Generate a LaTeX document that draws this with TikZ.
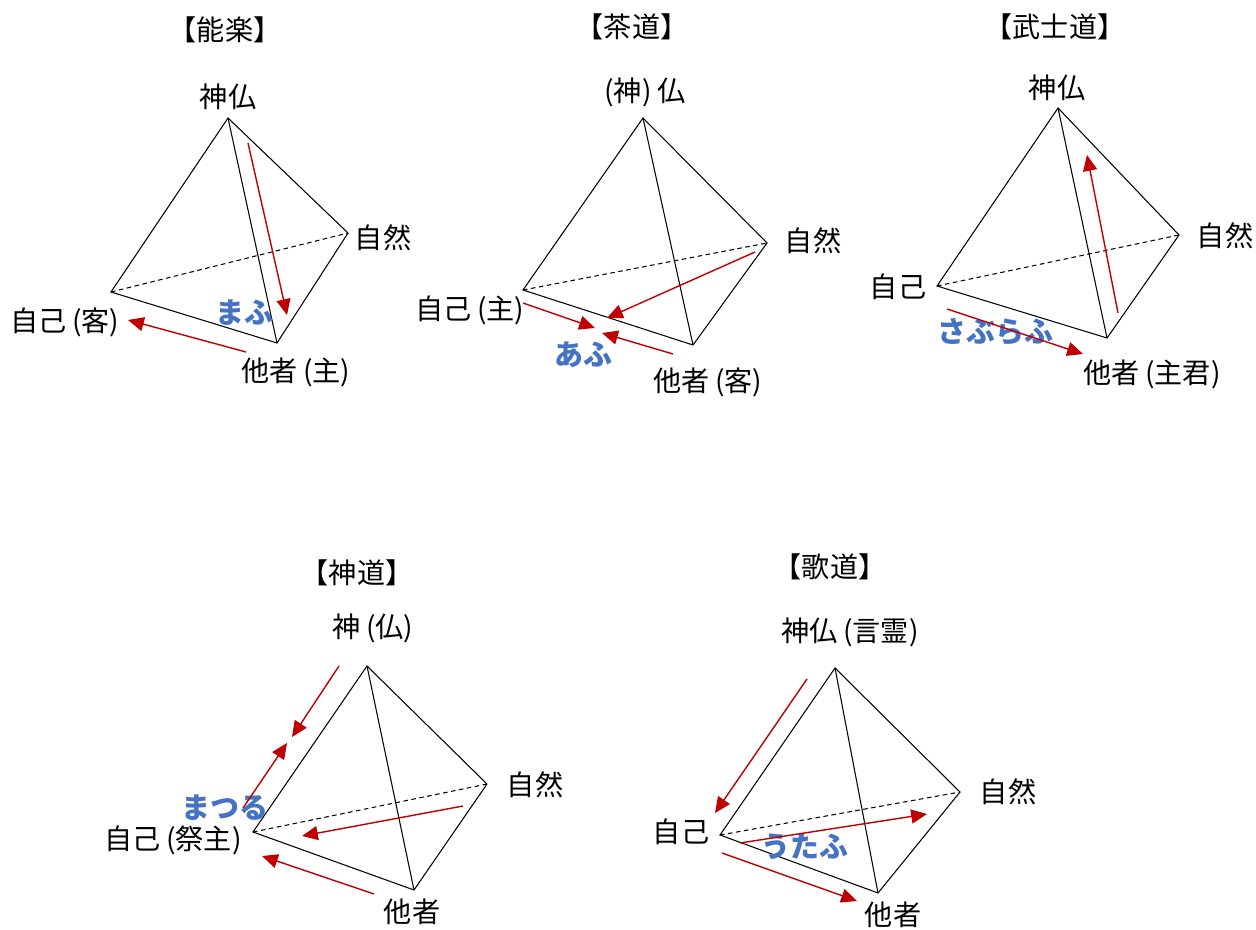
\documentclass[tikz,border=0pt]{standalone}
\usepackage{fontspec}
\setmainfont{Noto Sans CJK JP}
\usetikzlibrary{arrows.meta}
\definecolor{arrred}{HTML}{C00000}
\definecolor{kanablue}{HTML}{4472C4}
\newcommand{\myLP}{\hspace{0.2em}(}
\newcommand{\myRP}{)\hspace{0.2em}}
\begin{document}
\begin{tikzpicture}[x=0.02cm,y=-0.02cm,
  edge/.style={line width=0.6pt, line join=miter},
  hidden/.style={line width=0.6pt, dash pattern=on 2.6pt off 2pt},
  rarrow/.style={arrred, line width=0.8pt, -{Triangle[length=9pt,width=8pt]}},
  lbl/.style={font=\fontsize{16}{19}\selectfont, inner sep=0pt},
  ttl/.style={font=\fontsize{16}{19}\selectfont, inner sep=0pt},
  kana/.style={text=kanablue, font=\fontsize{16.5}{19}\selectfont\bfseries, inner sep=0pt}]
\useasboundingbox[fill=white] (0,0) rectangle (1256,929);

% ---------- 能楽 ----------
\node[ttl] (t1) at (225,30) {【能楽】};
\coordinate (A1t) at (228,118);
\coordinate (A1n) at (348,233);
\coordinate (A1s) at (111,292);
\coordinate (A1o) at (277,343);
\draw[edge] (A1s) -- (A1t) -- (A1n) -- (A1o) -- cycle;
\draw[edge] (A1t) -- (A1o);
\draw[hidden] (A1s) -- (A1n);
\node[lbl] (l1t) at (228,97) {神仏};
\node[lbl] (l1n) at (383,238) {自然};
\node[lbl] (l1s) at (65,322) {自己\myLP 客\myRP};
\node[lbl] (l1o) at (296,372) {他者\myLP 主\myRP};
\node[kana] (k1) at (244,313) {まふ};
\coordinate (A1p1) at (248,143); \coordinate (A1p2) at (287,315);
\coordinate (A1q1) at (246,352); \coordinate (A1q2) at (128,320);
\draw[rarrow] (A1p1) -- (A1p2);
\draw[rarrow] (A1q1) -- (A1q2);

% ---------- 茶道 ----------
\node[ttl] (t2) at (632,27) {【茶道】};
\coordinate (A2t) at (643,118);
\coordinate (A2n) at (767,243);
\coordinate (A2s) at (523,290);
\coordinate (A2o) at (693,345);
\draw[edge] (A2s) -- (A2t) -- (A2n) -- (A2o) -- cycle;
\draw[edge] (A2t) -- (A2o);
\draw[hidden] (A2s) -- (A2n);
\node[lbl] (l2t) at (642,92) {\myLP 神\myRP 仏};
\node[lbl] (l2n) at (813,241) {自然};
\node[lbl] (l2s) at (470,310) {自己\myLP 主\myRP};
\node[lbl] (l2o) at (708,382) {他者\myLP 客\myRP};
\node[kana] (k2) at (583,355) {あふ};
\coordinate (A2p1) at (523,303); \coordinate (A2p2) at (595,328);
\coordinate (A2q1) at (673,354); \coordinate (A2q2) at (602,333);
\coordinate (A2r1) at (755,252); \coordinate (A2r2) at (607,318);
\draw[rarrow] (A2p1) -- (A2p2);
\draw[rarrow] (A2q1) -- (A2q2);
\draw[rarrow] (A2r1) -- (A2r2);

% ---------- 武士道 ----------
\node[ttl] (t3) at (1055,27) {【武士道】};
\coordinate (A3t) at (1058,108);
\coordinate (A3n) at (1179,235);
\coordinate (A3s) at (937,286);
\coordinate (A3o) at (1107,338);
\draw[edge] (A3s) -- (A3t) -- (A3n) -- (A3o) -- cycle;
\draw[edge] (A3t) -- (A3o);
\draw[hidden] (A3s) -- (A3n);
\node[lbl] (l3t) at (1057,88) {神仏};
\node[lbl] (l3n) at (1225,236) {自然};
\node[lbl] (l3s) at (898,287) {自己};
\node[lbl] (l3o) at (1152,374) {他者\myLP 主君\myRP};
\node[kana] (k3) at (995,332) {さぶらふ};
\coordinate (A3p1) at (1118,313); \coordinate (A3p2) at (1087,155);
\coordinate (A3q1) at (947,309); \coordinate (A3q2) at (1083,354);
\draw[rarrow] (A3p1) -- (A3p2);
\draw[rarrow] (A3q1) -- (A3q2);

% ---------- 神道 ----------
\node[ttl] (t4) at (357,573) {【神道】};
\coordinate (A4t) at (367,666);
\coordinate (A4n) at (487,784);
\coordinate (A4s) at (253,832);
\coordinate (A4o) at (414,890);
\draw[edge] (A4s) -- (A4t) -- (A4n) -- (A4o) -- cycle;
\draw[edge] (A4t) -- (A4o);
\draw[hidden] (A4s) -- (A4n);
\node[lbl] (l4t) at (373,628) {神\myLP 仏\myRP};
\node[lbl] (l4n) at (535,785) {自然};
\node[lbl] (l4s) at (173,840) {自己\myLP 祭主\myRP};
\node[lbl] (l4o) at (412,912) {他者};
\node[kana] (k4) at (225,808) {まつる};
\coordinate (A4p1) at (339,666); \coordinate (A4p2) at (292,737);
\coordinate (A4q1) at (243,808); \coordinate (A4q2) at (287,743);
\coordinate (A4r1) at (463,806); \coordinate (A4r2) at (302,836);
\coordinate (A4u1) at (374,894); \coordinate (A4u2) at (262,856);
\draw[rarrow] (A4p1) -- (A4p2);
\draw[rarrow] (A4q1) -- (A4q2);
\draw[rarrow] (A4r1) -- (A4r2);
\draw[rarrow] (A4u1) -- (A4u2);

% ---------- 歌道 ----------
\node[ttl] (t5) at (830,567) {【歌道】};
\coordinate (A5t) at (835,668);
\coordinate (A5n) at (960,792);
\coordinate (A5s) at (720,835);
\coordinate (A5o) at (878,893);
\draw[edge] (A5s) -- (A5t) -- (A5n) -- (A5o) -- cycle;
\draw[edge] (A5t) -- (A5o);
\draw[hidden] (A5s) -- (A5n);
\node[lbl] (l5t) at (850,632) {神仏\myLP 言霊\myRP};
\node[lbl] (l5n) at (1008,792) {自然};
\node[lbl] (l5s) at (681,832) {自己};
\node[lbl] (l5o) at (893,915) {他者};
\node[kana] (k5) at (805,847) {うたふ};
\coordinate (A5p1) at (807,679); \coordinate (A5p2) at (715,813);
\coordinate (A5q1) at (740,843); \coordinate (A5q2) at (927,814);
\coordinate (A5r1) at (722,853); \coordinate (A5r2) at (857,901);
\draw[rarrow] (A5p1) -- (A5p2);
\draw[rarrow] (A5q1) -- (A5q2);
\draw[rarrow] (A5r1) -- (A5r2);
\end{tikzpicture}
\end{document}
